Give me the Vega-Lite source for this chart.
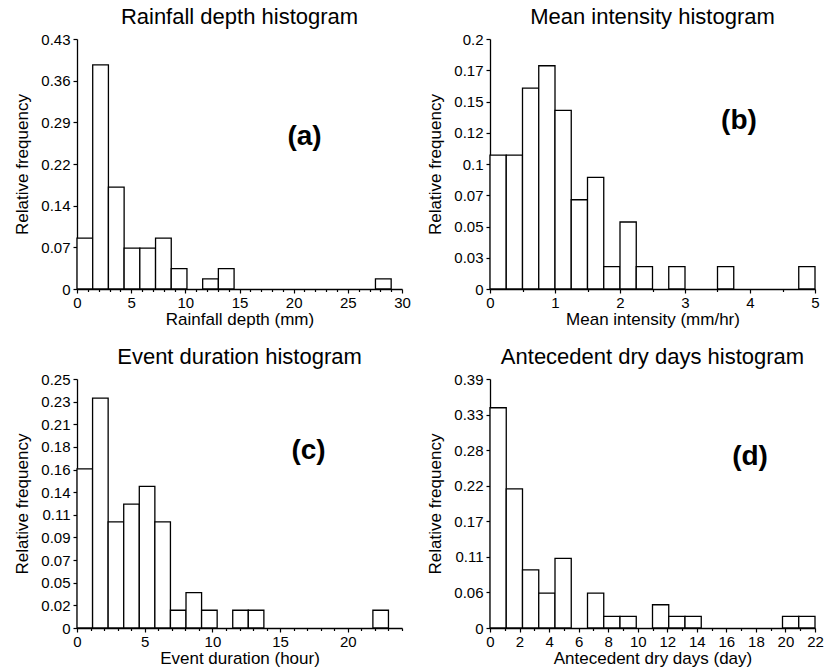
{
  "$schema": "https://vega.github.io/schema/vega-lite/v6.json",
  "background": "white",
  "padding": {"left": 13, "top": 6, "right": 2, "bottom": 5},
  "columns": 2,
  "spacing": {"column": 15, "row": 19},
  "datasets": {
    "a": [
      {"start": 0, "end": 1.45, "freq": 0.0877},
      {"start": 1.45, "end": 2.9, "freq": 0.386},
      {"start": 2.9, "end": 4.35, "freq": 0.1754},
      {"start": 4.35, "end": 5.8, "freq": 0.0702},
      {"start": 5.8, "end": 7.25, "freq": 0.0702},
      {"start": 7.25, "end": 8.7, "freq": 0.0877},
      {"start": 8.7, "end": 10.15, "freq": 0.0351},
      {"start": 11.6, "end": 13.05, "freq": 0.0175},
      {"start": 13.05, "end": 14.5, "freq": 0.0351},
      {"start": 27.55, "end": 29, "freq": 0.0175}
    ],
    "b": [
      {"start": 0, "end": 0.25, "freq": 0.1071},
      {"start": 0.25, "end": 0.5, "freq": 0.1071},
      {"start": 0.5, "end": 0.75, "freq": 0.1607},
      {"start": 0.75, "end": 1, "freq": 0.1786},
      {"start": 1, "end": 1.25, "freq": 0.1429},
      {"start": 1.25, "end": 1.5, "freq": 0.0714},
      {"start": 1.5, "end": 1.75, "freq": 0.0893},
      {"start": 1.75, "end": 2, "freq": 0.0179},
      {"start": 2, "end": 2.25, "freq": 0.0536},
      {"start": 2.25, "end": 2.5, "freq": 0.0179},
      {"start": 2.75, "end": 3, "freq": 0.0179},
      {"start": 3.5, "end": 3.75, "freq": 0.0179},
      {"start": 4.75, "end": 5, "freq": 0.0179}
    ],
    "c": [
      {"start": 0, "end": 1.15, "freq": 0.1607},
      {"start": 1.15, "end": 2.3, "freq": 0.2321},
      {"start": 2.3, "end": 3.45, "freq": 0.1071},
      {"start": 3.45, "end": 4.6, "freq": 0.125},
      {"start": 4.6, "end": 5.75, "freq": 0.1429},
      {"start": 5.75, "end": 6.9, "freq": 0.1071},
      {"start": 6.9, "end": 8.05, "freq": 0.0179},
      {"start": 8.05, "end": 9.2, "freq": 0.0357},
      {"start": 9.2, "end": 10.35, "freq": 0.0179},
      {"start": 11.5, "end": 12.65, "freq": 0.0179},
      {"start": 12.65, "end": 13.8, "freq": 0.0179},
      {"start": 21.85, "end": 23, "freq": 0.0179}
    ],
    "d": [
      {"start": 0, "end": 1.1, "freq": 0.345},
      {"start": 1.1, "end": 2.2, "freq": 0.218},
      {"start": 2.2, "end": 3.3, "freq": 0.0909},
      {"start": 3.3, "end": 4.4, "freq": 0.0545},
      {"start": 4.4, "end": 5.5, "freq": 0.109},
      {"start": 6.6, "end": 7.7, "freq": 0.0545},
      {"start": 7.7, "end": 8.8, "freq": 0.0182},
      {"start": 8.8, "end": 9.9, "freq": 0.0182},
      {"start": 11, "end": 12.1, "freq": 0.0364},
      {"start": 12.1, "end": 13.2, "freq": 0.0182},
      {"start": 13.2, "end": 14.3, "freq": 0.0182},
      {"start": 19.8, "end": 20.9, "freq": 0.0182},
      {"start": 20.9, "end": 22, "freq": 0.0182}
    ],
    "labels": [
      {"panel": "a", "label": "(a)"},
      {"panel": "b", "label": "(b)"},
      {"panel": "c", "label": "(c)"},
      {"panel": "d", "label": "(d)"}
    ]
  },
  "concat": [
    {
      "width": 325, "height": 250,
      "title": {"text": "Rainfall depth histogram"},
      "layer": [
        {
          "data": {"name": "a"},
          "mark": {"type": "rect", "fill": "white", "stroke": "black", "strokeWidth": 1.3},
          "encoding": {
            "x": {"field": "start", "type": "quantitative", "title": "Rainfall depth (mm)",
              "scale": {"domain": [0, 30], "nice": false, "zero": false},
              "axis": {"values": [0,1,2,3,4,5,6,7,8,9,10,11,12,13,14,15,16,17,18,19,20,21,22,23,24,25,26,27,28,29,30],
                "labelExpr": "datum.value % 5 === 0 ? datum.label : ''",
                "tickSize": {"condition": {"test": "datum.value % 5 === 0", "value": 4}, "value": 2.5}}},
            "x2": {"field": "end"},
            "y": {"field": "freq", "type": "quantitative", "title": "Relative frequency",
              "scale": {"domain": [0, 0.4304], "nice": false},
              "axis": {"values": [0, 0.071733, 0.143467, 0.2152, 0.286933, 0.358667, 0.4304], "format": ".2~f"}},
            "y2": {"datum": 0}
          }
        },
        {
          "data": {"name": "labels"},
          "transform": [{"filter": "datum.panel === 'a'"}],
          "mark": {"type": "text", "fontSize": 28, "fontWeight": "bold", "align": "center", "baseline": "middle"},
          "encoding": {
            "x": {"datum": 21.0, "type": "quantitative", "title": "Rainfall depth (mm)",
              "scale": {"domain": [0, 30], "nice": false, "zero": false},
              "axis": {"values": [0,1,2,3,4,5,6,7,8,9,10,11,12,13,14,15,16,17,18,19,20,21,22,23,24,25,26,27,28,29,30],
                "labelExpr": "datum.value % 5 === 0 ? datum.label : ''",
                "tickSize": {"condition": {"test": "datum.value % 5 === 0", "value": 4}, "value": 2.5}}},
            "y": {"datum": 0.261, "type": "quantitative", "title": "Relative frequency",
              "scale": {"domain": [0, 0.4304], "nice": false},
              "axis": {"values": [0, 0.071733, 0.143467, 0.2152, 0.286933, 0.358667, 0.4304], "format": ".2~f"}},
            "text": {"field": "label"}
          }
        }
      ]
    },
    {
      "width": 325, "height": 250,
      "title": {"text": "Mean intensity histogram"},
      "layer": [
        {
          "data": {"name": "b"},
          "mark": {"type": "rect", "fill": "white", "stroke": "black", "strokeWidth": 1.3},
          "encoding": {
            "x": {"field": "start", "type": "quantitative", "title": "Mean intensity (mm/hr)",
              "scale": {"domain": [0, 5], "nice": false, "zero": false},
              "axis": {"values": [0,0.5,1,1.5,2,2.5,3,3.5,4,4.5,5],
                "labelExpr": "datum.value % 1 === 0 ? format(datum.value, 'd') : ''",
                "tickSize": {"condition": {"test": "datum.value % 1 === 0", "value": 4}, "value": 2.5}}},
            "x2": {"field": "end"},
            "y": {"field": "freq", "type": "quantitative", "title": "Relative frequency",
              "scale": {"domain": [0, 0.2], "nice": false},
              "axis": {"values": [0, 0.025, 0.05, 0.075, 0.1, 0.1249, 0.15, 0.175, 0.2], "format": ".2~f"}},
            "y2": {"datum": 0}
          }
        },
        {
          "data": {"name": "labels"},
          "transform": [{"filter": "datum.panel === 'b'"}],
          "mark": {"type": "text", "fontSize": 28, "fontWeight": "bold", "align": "center", "baseline": "middle"},
          "encoding": {
            "x": {"datum": 3.83, "type": "quantitative", "title": "Mean intensity (mm/hr)",
              "scale": {"domain": [0, 5], "nice": false, "zero": false},
              "axis": {"values": [0,0.5,1,1.5,2,2.5,3,3.5,4,4.5,5],
                "labelExpr": "datum.value % 1 === 0 ? format(datum.value, 'd') : ''",
                "tickSize": {"condition": {"test": "datum.value % 1 === 0", "value": 4}, "value": 2.5}}},
            "y": {"datum": 0.1346, "type": "quantitative", "title": "Relative frequency",
              "scale": {"domain": [0, 0.2], "nice": false},
              "axis": {"values": [0, 0.025, 0.05, 0.075, 0.1, 0.1249, 0.15, 0.175, 0.2], "format": ".2~f"}},
            "text": {"field": "label"}
          }
        }
      ]
    },
    {
      "width": 325, "height": 249,
      "title": {"text": "Event duration histogram"},
      "layer": [
        {
          "data": {"name": "c"},
          "mark": {"type": "rect", "fill": "white", "stroke": "black", "strokeWidth": 1.3},
          "encoding": {
            "x": {"field": "start", "type": "quantitative", "title": "Event duration (hour)",
              "scale": {"domain": [0, 24], "nice": false, "zero": false},
              "axis": {"values": [0,1,2,3,4,5,6,7,8,9,10,11,12,13,14,15,16,17,18,19,20,21,22,23,24],
                "labelExpr": "datum.value % 5 === 0 ? datum.label : ''",
                "tickSize": {"condition": {"test": "datum.value % 5 === 0", "value": 4}, "value": 2.5}}},
            "x2": {"field": "end"},
            "y": {"field": "freq", "type": "quantitative", "title": "Relative frequency",
              "scale": {"domain": [0, 0.2514], "nice": false},
              "axis": {"values": [0, 0.022855, 0.045709, 0.068564, 0.091418, 0.114273, 0.137127, 0.159982, 0.182836, 0.205691, 0.228545, 0.2514], "format": ".2~f"}},
            "y2": {"datum": 0}
          }
        },
        {
          "data": {"name": "labels"},
          "transform": [{"filter": "datum.panel === 'c'"}],
          "mark": {"type": "text", "fontSize": 28, "fontWeight": "bold", "align": "center", "baseline": "middle"},
          "encoding": {
            "x": {"datum": 17.1, "type": "quantitative", "title": "Event duration (hour)",
              "scale": {"domain": [0, 24], "nice": false, "zero": false},
              "axis": {"values": [0,1,2,3,4,5,6,7,8,9,10,11,12,13,14,15,16,17,18,19,20,21,22,23,24],
                "labelExpr": "datum.value % 5 === 0 ? datum.label : ''",
                "tickSize": {"condition": {"test": "datum.value % 5 === 0", "value": 4}, "value": 2.5}}},
            "y": {"datum": 0.179, "type": "quantitative", "title": "Relative frequency",
              "scale": {"domain": [0, 0.2514], "nice": false},
              "axis": {"values": [0, 0.022855, 0.045709, 0.068564, 0.091418, 0.114273, 0.137127, 0.159982, 0.182836, 0.205691, 0.228545, 0.2514], "format": ".2~f"}},
            "text": {"field": "label"}
          }
        }
      ]
    },
    {
      "width": 325, "height": 249,
      "title": {"text": "Antecedent dry days histogram"},
      "layer": [
        {
          "data": {"name": "d"},
          "mark": {"type": "rect", "fill": "white", "stroke": "black", "strokeWidth": 1.3},
          "encoding": {
            "x": {"field": "start", "type": "quantitative", "title": "Antecedent dry days (day)",
              "scale": {"domain": [0, 22], "nice": false, "zero": false},
              "axis": {"values": [0,1,2,3,4,5,6,7,8,9,10,11,12,13,14,15,16,17,18,19,20,21,22],
                "labelExpr": "datum.value % 2 === 0 ? datum.label : ''",
                "tickSize": {"condition": {"test": "datum.value % 2 === 0", "value": 4}, "value": 2.5}}},
            "x2": {"field": "end"},
            "y": {"field": "freq", "type": "quantitative", "title": "Relative frequency",
              "scale": {"domain": [0, 0.39], "nice": false},
              "axis": {"values": [0, 0.055714, 0.111429, 0.167143, 0.222857, 0.278571, 0.334286, 0.39], "format": ".2~f"}},
            "y2": {"datum": 0}
          }
        },
        {
          "data": {"name": "labels"},
          "transform": [{"filter": "datum.panel === 'd'"}],
          "mark": {"type": "text", "fontSize": 28, "fontWeight": "bold", "align": "center", "baseline": "middle"},
          "encoding": {
            "x": {"datum": 17.6, "type": "quantitative", "title": "Antecedent dry days (day)",
              "scale": {"domain": [0, 22], "nice": false, "zero": false},
              "axis": {"values": [0,1,2,3,4,5,6,7,8,9,10,11,12,13,14,15,16,17,18,19,20,21,22],
                "labelExpr": "datum.value % 2 === 0 ? datum.label : ''",
                "tickSize": {"condition": {"test": "datum.value % 2 === 0", "value": 4}, "value": 2.5}}},
            "y": {"datum": 0.268, "type": "quantitative", "title": "Relative frequency",
              "scale": {"domain": [0, 0.39], "nice": false},
              "axis": {"values": [0, 0.055714, 0.111429, 0.167143, 0.222857, 0.278571, 0.334286, 0.39], "format": ".2~f"}},
            "text": {"field": "label"}
          }
        }
      ]
    }
  ],
  "config": {
    "font": "Liberation Sans",
    "view": {"stroke": null},
    "title": {"font": "Liberation Sans", "fontSize": 22, "fontWeight": "normal", "color": "black", "frame": "group", "anchor": "middle", "offset": 3},
    "text": {"font": "Liberation Sans", "color": "black"},
    "axis": {
      "grid": false,
      "domainColor": "black", "domainWidth": 1.3,
      "tickColor": "black", "tickWidth": 1.2, "tickSize": 4,
      "labelColor": "black", "labelFont": "Liberation Sans", "labelFontSize": 15,
      "labelPadding": 2, "labelOverlap": false, "labelFlush": false, "labelBound": false,
      "titleColor": "black", "titleFont": "Liberation Sans", "titleFontSize": 17, "titleFontWeight": "normal",
      "titlePadding": 1
    },
    "axisY": {"labelPadding": 3, "titlePadding": 9}
  }
}
